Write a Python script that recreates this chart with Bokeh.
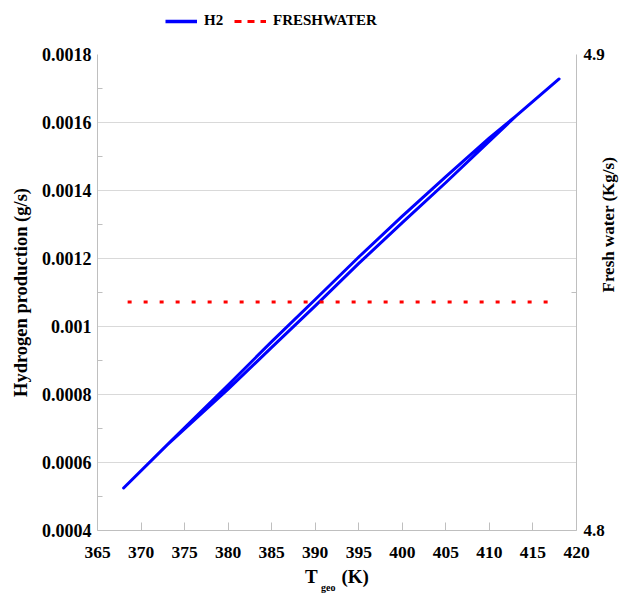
import math
from bokeh.plotting import figure
from bokeh.layouts import column
from bokeh.models import (Range1d, LinearAxis, FixedTicker, CustomJSTickFormatter,
                          Legend, LegendItem)
from bokeh.embed import file_html
from bokeh.resources import INLINE

# ---------------- data ----------------
h2_up_x = [368, 373, 380, 385, 390, 395, 400, 405, 410, 413, 418]
h2_up_y = [0.000525, 0.000652, 0.000816, 0.0009385, 0.0010605, 0.0011855,
           0.0013055, 0.0014235, 0.001545, 0.001618, 0.001728]
h2_down_x = [418, 413, 410, 405, 400, 395, 390, 385, 380, 373, 368]
h2_down_y = [0.001728, 0.001618, 0.001555, 0.0014405, 0.0013245, 0.0012045,
             0.0010795, 0.0009555, 0.000828, 0.000652, 0.000525]
fresh_x = [368, 373, 380, 385, 390, 395, 400, 405, 410, 413, 418]
fresh_y = [4.848] * len(fresh_x)

x_ticks = [365, 370, 375, 380, 385, 390, 395, 400, 405, 410, 415, 420]
left_ticks = [0.0004, 0.0006, 0.0008, 0.0010, 0.0012, 0.0014, 0.0016, 0.0018]
left_minor = [0.0005, 0.0007, 0.0009, 0.0011, 0.0013, 0.0015, 0.0017]
right_ticks = [4.8, 4.9]
right_minor = [4.85]

FONT = "Liberation Serif"
AX = "#BFBFBF"
NB = "\u00a0"
BLUE = "#0000FF"
RED = "#FF0000"

h2_x = h2_up_x + h2_down_x
h2_y = h2_up_y + h2_down_y

# ---------------- legend strip (top) ----------------
LEG_H = 40
lg = figure(width=630, height=LEG_H, output_backend="svg", toolbar_location=None,
            x_axis_type=None, y_axis_type=None, min_border=0,
            x_range=Range1d(0, 1), y_range=Range1d(0, 1))
lg.outline_line_color = None
lg.grid.grid_line_color = None
# legend-sample renderers: their points lie outside the strip's ranges, so only
# the legend swatches are visible
lg_h2 = lg.line(x=[5, 6], y=[5, 5], line_color=BLUE, line_width=3.5)
lg_fw = lg.line(x=[5, 6], y=[5, 5], line_color=RED, line_width=3, line_dash="7 6")
legend = Legend(items=[LegendItem(label="H2", renderers=[lg_h2]),
                       LegendItem(label="FRESHWATER", renderers=[lg_fw])],
                orientation="horizontal", location=(68, 11), padding=0, margin=0,
                spacing=10, glyph_width=32, glyph_height=16, label_standoff=7,
                label_text_font=FONT, label_text_font_style="bold",
                label_text_font_size="15px", label_text_color="black",
                border_line_color=None, background_fill_alpha=0)
lg.add_layout(legend, "center")

# ---------------- main chart ----------------
p = figure(width=630, height=597 - LEG_H, output_backend="svg", toolbar_location=None,
           x_range=Range1d(365, 420), y_range=Range1d(0.0004, 0.0018),
           min_border_left=97, min_border_right=54, min_border_top=54 - LEG_H,
           min_border_bottom=67)
p.outline_line_color = None
p.background_fill_color = "white"
p.border_fill_color = "white"
p.extra_y_ranges = {"fw": Range1d(4.8, 4.9)}

# x axis
xa = p.xaxis[0]
xa.ticker = FixedTicker(ticks=x_ticks)
xa.major_tick_in = 8
xa.major_tick_out = 0
xa.minor_tick_line_color = None
xa.axis_line_color = AX
xa.major_tick_line_color = AX
xa.major_label_text_font = FONT
xa.major_label_text_font_style = "bold"
xa.major_label_text_font_size = "17.5px"
xa.major_label_text_color = "black"
xa.major_label_standoff = 16
xa.axis_label = "T" + NB * 5 + "(K)"
xa.axis_label_text_font = FONT
xa.axis_label_text_font_style = "bold"
xa.axis_label_text_font_size = "19px"
xa.axis_label_text_color = "black"
xa.axis_label_standoff = 5

# subscript "geo" carried by a bare second x axis
xsub = LinearAxis(ticker=FixedTicker(ticks=[]), axis_line_color=None,
                  major_tick_line_color=None, minor_tick_line_color=None)
xsub.axis_label = "geo" + NB * 7
xsub.axis_label_text_font = FONT
xsub.axis_label_text_font_style = "bold"
xsub.axis_label_text_font_size = "10px"
xsub.axis_label_text_color = "black"
xsub.axis_label_standoff = -8
p.add_layout(xsub, "below")

# left axis
ya = p.yaxis[0]
ya.ticker = FixedTicker(ticks=left_ticks, minor_ticks=left_minor)
ya.formatter = CustomJSTickFormatter(code="return parseFloat(tick.toFixed(4)).toString();")
ya.major_tick_in = 0
ya.major_tick_out = 0
ya.minor_tick_in = 5
ya.minor_tick_out = 0
ya.axis_line_color = AX
ya.minor_tick_line_color = AX
ya.major_label_text_font = FONT
ya.major_label_text_font_style = "bold"
ya.major_label_text_font_size = "18px"
ya.major_label_text_color = "black"
ya.major_label_standoff = 6
ya.axis_label = "Hydrogen production (g/s)"
ya.axis_label_text_font = FONT
ya.axis_label_text_font_style = "bold"
ya.axis_label_text_font_size = "18.5px"
ya.axis_label_text_color = "black"
ya.axis_label_standoff = 8

# right axis
ra = LinearAxis(y_range_name="fw", ticker=FixedTicker(ticks=right_ticks, minor_ticks=right_minor),
                formatter=CustomJSTickFormatter(code="return tick.toFixed(1);"))
ra.major_tick_in = 0
ra.major_tick_out = 0
ra.minor_tick_in = 5
ra.minor_tick_out = 0
ra.axis_line_color = AX
ra.minor_tick_line_color = AX
ra.major_label_text_font = FONT
ra.major_label_text_font_style = "bold"
ra.major_label_text_font_size = "17px"
ra.major_label_text_color = "black"
ra.major_label_standoff = 7
ra.axis_label = "Fresh water (Kg/s)"
ra.axis_label_text_font = FONT
ra.axis_label_text_font_style = "bold"
ra.axis_label_text_font_size = "17px"
ra.axis_label_text_color = "black"
ra.axis_label_standoff = 1
ra.axis_label_orientation = math.pi / 2
p.add_layout(ra, "right")

p.xgrid.grid_line_color = None
p.ygrid.grid_line_color = "#D9D9D9"
p.ygrid.ticker = FixedTicker(ticks=left_ticks)

p.line(h2_x, h2_y, line_color=BLUE, line_width=3, line_join="round", line_cap="round")
p.line(fresh_x, fresh_y, y_range_name="fw", line_color=RED, line_width=3,
       line_dash="4 12", line_dash_offset=12)

layout = column(lg, p, spacing=0)
open("out.html", "w").write(file_html(layout, INLINE))
